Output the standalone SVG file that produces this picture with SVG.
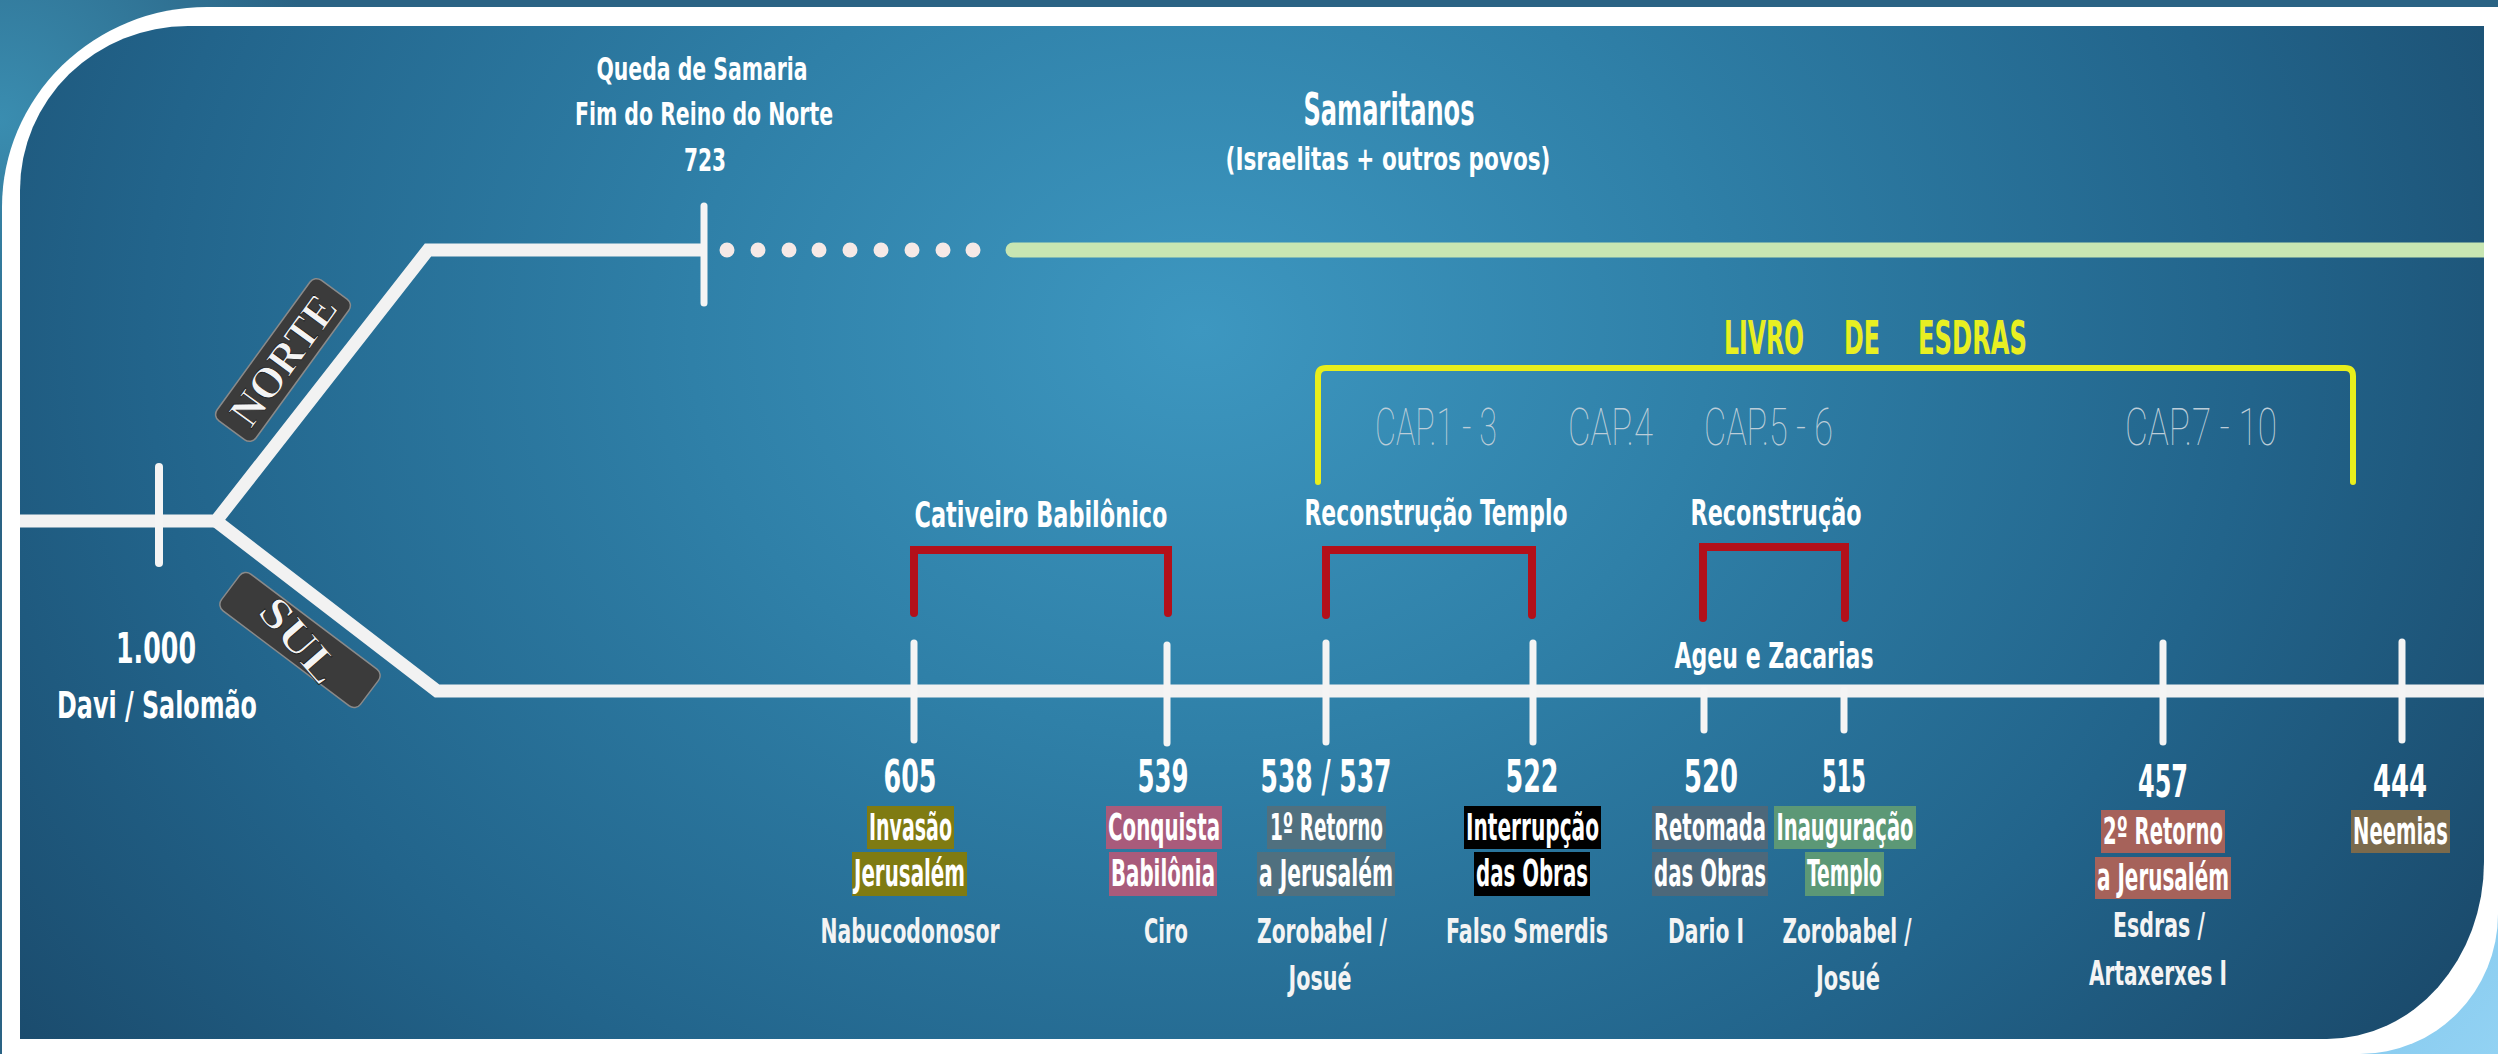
<svg xmlns="http://www.w3.org/2000/svg" width="2498" height="1054" viewBox="0 0 2498 1054">
<defs>
<radialGradient id="bg" gradientUnits="userSpaceOnUse" cx="1200" cy="330" r="1700" gradientTransform="translate(1200 330) scale(1 0.8) translate(-1200 -330)">
<stop offset="0" stop-color="#3d97c0"/>
<stop offset="0.3" stop-color="#2f80a8"/>
<stop offset="0.62" stop-color="#22648b"/>
<stop offset="1" stop-color="#173f5e"/>
</radialGradient>
<radialGradient id="tl" gradientUnits="userSpaceOnUse" cx="0" cy="120" r="320">
<stop offset="0" stop-color="#3a8db0"/>
<stop offset="1" stop-color="#2a6384"/>
</radialGradient>
<linearGradient id="br" x1="0" y1="0" x2="1" y2="1">
<stop offset="0" stop-color="#4e9fcc"/>
<stop offset="0.5" stop-color="#86c9ee"/>
<stop offset="1" stop-color="#92d2f3"/>
</linearGradient>
<style>
.t{font-family:"Liberation Sans Narrow","DejaVu Sans Condensed","Liberation Sans",sans-serif;font-weight:bold;fill:#ffffff;text-anchor:middle}
.num{font-size:32px}
.box{font-size:27px}
.nm{font-size:25px;fill:#f4f4f4}
.top{font-size:24px}
.sec{font-size:26px}
.yel{font-size:33px;fill:#e8ef22;text-anchor:start}
.cap{font-family:Roboto,"Liberation Sans",sans-serif;font-weight:100;font-size:31px;fill:#bccdd8;text-anchor:start}
.line{fill:none;stroke:#f2f2f2;stroke-width:13;stroke-linejoin:miter}
.tick{fill:none;stroke:#f4f4f4;stroke-width:7;stroke-linecap:round}
.red{fill:none;stroke:#b3101a;stroke-width:8;stroke-linejoin:miter;stroke-linecap:round}
.lab{fill:#3b3b3b;stroke:#8a8a8a;stroke-width:1.5}
.serif{font-family:"Liberation Serif","DejaVu Serif",serif;font-weight:bold;font-size:44px;fill:#f4f4f4;stroke:#1a1a1a;stroke-width:0.8;text-anchor:middle}
</style>
</defs>

<!-- background & frame -->
<rect x="0" y="0" width="2498" height="1054" fill="#2a6384"/>
<rect x="0" y="0" width="330" height="330" fill="url(#tl)"/>
<rect x="2280" y="800" width="218" height="254" fill="url(#br)"/>
<path d="M2,207 A205,200 0 0 1 207,7 H2498 V914 A138,140 0 0 1 2360,1054 H2 Z" fill="#ffffff"/>
<path d="M20,190 A168,164 0 0 1 188,26 H2484 V862 A157,177 0 0 1 2327,1039 H20 Z" fill="url(#bg)"/>

<!-- connectors -->
<g id="connectors">
<path class="line" d="M20,521 H216 L428,250 H704"/>
<path class="line" d="M216,521 L437,691 H2484"/>
<path d="M1013,250 H2484" stroke="#c8e6b2" stroke-width="15" stroke-linecap="round" fill="none"/>
<rect x="2484" y="240" width="14" height="20" fill="#ffffff"/>
<g fill="#f6e9e6">
<circle cx="727" cy="250" r="7.5"/><circle cx="758" cy="250" r="7.5"/><circle cx="789" cy="250" r="7.5"/>
<circle cx="819" cy="250" r="7.5"/><circle cx="850" cy="250" r="7.5"/><circle cx="881" cy="250" r="7.5"/>
<circle cx="912" cy="250" r="7.5"/><circle cx="943" cy="250" r="7.5"/><circle cx="973" cy="250" r="7.5"/>
</g>
<path class="tick" d="M159,467 V563" style="stroke-width:8"/>
<path class="tick" d="M704,206 V303"/>
<path class="tick" d="M914,643 V740"/>
<path class="tick" d="M1167,645 V743"/>
<path class="tick" d="M1326,643 V742"/>
<path class="tick" d="M1533,643 V742"/>
<path class="tick" d="M1704,690 V730"/>
<path class="tick" d="M1844,690 V730"/>
<path class="tick" d="M2163,643 V742"/>
<path class="tick" d="M2402,642 V740"/>
<path class="red" d="M914,613 V550 H1168 V613"/>
<path class="red" d="M1326,615 V550 H1532 V615"/>
<path class="red" d="M1703,618 V547 H1845 V618"/>
<path d="M1318,482 V376 Q1318,368 1326,368 H2345 Q2353,368 2353,376 V482" fill="none" stroke="#e8ee1c" stroke-width="6" stroke-linecap="round"/>
</g>

<!-- branch labels -->
<g id="norte">
<g transform="translate(283 360) rotate(-54)">
<rect class="lab" x="-87" y="-24" width="174" height="48" rx="8"/>
<text class="serif" x="0" y="15" textLength="150" lengthAdjust="spacingAndGlyphs">NORTE</text>
</g>
</g>
<g id="sul">
<g transform="translate(300 640) rotate(37)">
<rect class="lab" x="-87" y="-23" width="174" height="46" rx="8"/>
<g transform="rotate(12)"><text class="serif" x="0" y="15" textLength="98" lengthAdjust="spacingAndGlyphs">SUL</text></g>
</g>
</g>

<!-- top labels -->
<g id="queda-samaria">
<text class="t top" transform="translate(702 80) scale(1 1.35)" textLength="211" lengthAdjust="spacingAndGlyphs">Queda de Samaria</text>
<text class="t top" transform="translate(704 125) scale(1 1.35)" textLength="258" lengthAdjust="spacingAndGlyphs">Fim do Reino do Norte</text>
<text class="t top" transform="translate(705 171) scale(1 1.35)" textLength="42" lengthAdjust="spacingAndGlyphs">723</text>
</g>
<g id="samaritanos">
<text class="t" style="font-size:31px" transform="translate(1389 125) scale(1 1.45)" textLength="171" lengthAdjust="spacingAndGlyphs">Samaritanos</text>
<text class="t top" transform="translate(1388 170) scale(1 1.35)" textLength="325" lengthAdjust="spacingAndGlyphs">(Israelitas + outros povos)</text>
</g>
<g id="davi">
<text class="t" style="font-size:31px" transform="translate(156 663) scale(1 1.4)" textLength="80" lengthAdjust="spacingAndGlyphs">1.000</text>
<text class="t" style="font-size:27px" transform="translate(157 718) scale(1 1.35)" textLength="200" lengthAdjust="spacingAndGlyphs">Davi / Salomão</text>
</g>

<!-- Livro de Esdras -->
<g id="livro-esdras">
<text class="t yel" transform="translate(1724 354) scale(1 1.4)" textLength="80" lengthAdjust="spacingAndGlyphs">LIVRO</text>
<text class="t yel" transform="translate(1844 354) scale(1 1.4)" textLength="36" lengthAdjust="spacingAndGlyphs">DE</text>
<text class="t yel" transform="translate(1918 354) scale(1 1.4)" textLength="109" lengthAdjust="spacingAndGlyphs">ESDRAS</text>
<text class="cap" transform="translate(1375 445) scale(1 1.65)" textLength="122" lengthAdjust="spacingAndGlyphs">CAP.1 - 3</text>
<text class="cap" transform="translate(1568 445) scale(1 1.65)" textLength="85" lengthAdjust="spacingAndGlyphs">CAP.4</text>
<text class="cap" transform="translate(1704 445) scale(1 1.65)" textLength="129" lengthAdjust="spacingAndGlyphs">CAP.5 - 6</text>
<text class="cap" transform="translate(2125 445) scale(1 1.65)" textLength="152" lengthAdjust="spacingAndGlyphs">CAP.7 - 10</text>
</g>

<!-- periods -->
<g id="cativeiro">
<text class="t sec" transform="translate(1041 527) scale(1 1.35)" textLength="253" lengthAdjust="spacingAndGlyphs">Cativeiro Babilônico</text>
</g>
<g id="reconstrucao-templo">
<text class="t sec" transform="translate(1436 525) scale(1 1.35)" textLength="263" lengthAdjust="spacingAndGlyphs">Reconstrução Templo</text>
</g>
<g id="reconstrucao">
<text class="t sec" transform="translate(1776 525) scale(1 1.35)" textLength="171" lengthAdjust="spacingAndGlyphs">Reconstrução</text>
<text class="t sec" transform="translate(1774 668) scale(1 1.38)" textLength="199" lengthAdjust="spacingAndGlyphs">Ageu e Zacarias</text>
</g>

<!-- events -->
<g id="e605">
<text class="t num" transform="translate(910 792) scale(1 1.4)" textLength="53" lengthAdjust="spacingAndGlyphs">605</text>
<rect x="867" y="806" width="87" height="43" fill="#7f7b12"/>
<rect x="852" y="852" width="115" height="44" fill="#7f7b12"/>
<text class="t box" transform="translate(910.5 840) scale(1 1.4)" textLength="83" lengthAdjust="spacingAndGlyphs">Invasão</text>
<text class="t box" transform="translate(909.5 886) scale(1 1.4)" textLength="111" lengthAdjust="spacingAndGlyphs">Jerusalém</text>
<text class="t nm" transform="translate(910 943) scale(1 1.35)" textLength="179" lengthAdjust="spacingAndGlyphs">Nabucodonosor</text>
</g>
<g id="e539">
<text class="t num" transform="translate(1163 792) scale(1 1.4)" textLength="51" lengthAdjust="spacingAndGlyphs">539</text>
<rect x="1106" y="806" width="116" height="43" fill="#a95b7b"/>
<rect x="1109" y="852" width="108" height="44" fill="#a95b7b"/>
<text class="t box" transform="translate(1164 840) scale(1 1.4)" textLength="112" lengthAdjust="spacingAndGlyphs">Conquista</text>
<text class="t box" transform="translate(1163 886) scale(1 1.4)" textLength="104" lengthAdjust="spacingAndGlyphs">Babilônia</text>
<text class="t nm" transform="translate(1166 943) scale(1 1.35)" textLength="44" lengthAdjust="spacingAndGlyphs">Ciro</text>
</g>
<g id="e538">
<text class="t num" transform="translate(1326 792) scale(1 1.4)" textLength="131" lengthAdjust="spacingAndGlyphs">538 / 537</text>
<rect x="1267" y="806" width="119" height="43" fill="#50707f"/>
<rect x="1257" y="852" width="138" height="44" fill="#50707f"/>
<text class="t box" transform="translate(1326.5 840) scale(1 1.4)" textLength="113" lengthAdjust="spacingAndGlyphs">1º Retorno</text>
<text class="t box" transform="translate(1326 886) scale(1 1.4)" textLength="134" lengthAdjust="spacingAndGlyphs">a Jerusalém</text>
<text class="t nm" transform="translate(1322 943) scale(1 1.35)" textLength="130" lengthAdjust="spacingAndGlyphs">Zorobabel /</text>
<text class="t nm" transform="translate(1320 990) scale(1 1.35)" textLength="63" lengthAdjust="spacingAndGlyphs">Josué</text>
</g>
<g id="e522">
<text class="t num" transform="translate(1532 792) scale(1 1.4)" textLength="53" lengthAdjust="spacingAndGlyphs">522</text>
<rect x="1464" y="806" width="137" height="43" fill="#000000"/>
<rect x="1474" y="852" width="116" height="44" fill="#000000"/>
<text class="t box" transform="translate(1532.5 840) scale(1 1.4)" textLength="133" lengthAdjust="spacingAndGlyphs">Interrupção</text>
<text class="t box" transform="translate(1532 886) scale(1 1.4)" textLength="112" lengthAdjust="spacingAndGlyphs">das Obras</text>
<text class="t nm" transform="translate(1527 943) scale(1 1.35)" textLength="162" lengthAdjust="spacingAndGlyphs">Falso Smerdis</text>
</g>
<g id="e520">
<text class="t num" transform="translate(1711 792) scale(1 1.4)" textLength="54" lengthAdjust="spacingAndGlyphs">520</text>
<rect x="1652" y="806" width="116" height="43" fill="#4d687a"/>
<rect x="1652" y="852" width="116" height="44" fill="#4d687a"/>
<text class="t box" style="font-size:24px" transform="translate(1710 840) scale(1 1.55)" textLength="112" lengthAdjust="spacingAndGlyphs">Retomada</text>
<text class="t box" transform="translate(1710 886) scale(1 1.4)" textLength="112" lengthAdjust="spacingAndGlyphs">das Obras</text>
<text class="t nm" transform="translate(1706 943) scale(1 1.35)" textLength="76" lengthAdjust="spacingAndGlyphs">Dario I</text>
</g>
<g id="e515">
<text class="t num" transform="translate(1844 792) scale(1 1.4)" textLength="44" lengthAdjust="spacingAndGlyphs">515</text>
<rect x="1774" y="806" width="142" height="43" fill="#5c9876"/>
<rect x="1805" y="852" width="79" height="44" fill="#5c9876"/>
<text class="t box" style="font-size:24px" transform="translate(1845 840) scale(1 1.55)" textLength="137" lengthAdjust="spacingAndGlyphs">Inauguração</text>
<text class="t box" transform="translate(1844.5 886) scale(1 1.4)" textLength="75" lengthAdjust="spacingAndGlyphs">Templo</text>
<text class="t nm" transform="translate(1847 943) scale(1 1.35)" textLength="129" lengthAdjust="spacingAndGlyphs">Zorobabel /</text>
<text class="t nm" transform="translate(1848 990) scale(1 1.35)" textLength="64" lengthAdjust="spacingAndGlyphs">Josué</text>
</g>
<g id="e457">
<text class="t num" transform="translate(2163 797) scale(1 1.4)" textLength="50" lengthAdjust="spacingAndGlyphs">457</text>
<rect x="2101" y="810" width="124" height="43" fill="#a6625a"/>
<rect x="2095" y="857" width="136" height="42" fill="#a6625a"/>
<text class="t box" transform="translate(2163 844) scale(1 1.4)" textLength="120" lengthAdjust="spacingAndGlyphs">2º Retorno</text>
<text class="t box" transform="translate(2163 890) scale(1 1.4)" textLength="132" lengthAdjust="spacingAndGlyphs">a Jerusalém</text>
<text class="t nm" transform="translate(2159 937) scale(1 1.35)" textLength="92" lengthAdjust="spacingAndGlyphs">Esdras /</text>
<text class="t nm" transform="translate(2158 985) scale(1 1.35)" textLength="138" lengthAdjust="spacingAndGlyphs">Artaxerxes I</text>
</g>
<g id="e444">
<text class="t num" transform="translate(2400 797) scale(1 1.4)" textLength="54" lengthAdjust="spacingAndGlyphs">444</text>
<rect x="2351" y="810" width="99" height="43" fill="#7b6a4c"/>
<text class="t box" transform="translate(2400.5 844) scale(1 1.4)" textLength="95" lengthAdjust="spacingAndGlyphs">Neemias</text>
</g>
</svg>
